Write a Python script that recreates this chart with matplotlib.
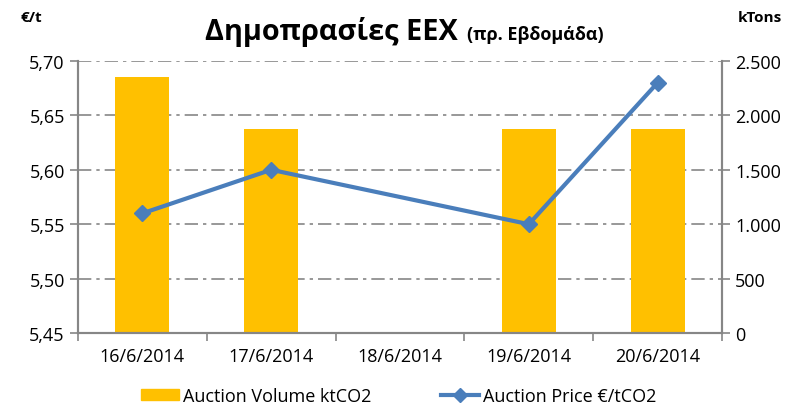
import numpy as np
import matplotlib
matplotlib.use('Agg')
import matplotlib.pyplot as plt
from matplotlib.lines import Line2D
from matplotlib.patches import Patch

plt.rcParams['font.family'] = ['Open Sans', 'DejaVu Sans']

# Dados
datas = ['16/6/2014', '17/6/2014', '18/6/2014', '19/6/2014', '20/6/2014']
volume = [2356, 1877, 0, 1877, 1877]
preco = [5.56, 5.60, np.nan, 5.55, 5.68]
ticks_esq = [5.45, 5.50, 5.55, 5.60, 5.65, 5.70]
ticks_dir = [0, 500, 1000, 1500, 2000, 2500]

W, H = 793, 406
fig = plt.figure(figsize=(W / 100, H / 100), dpi=100)
ax = fig.add_axes([78 / W, 1 - 334 / H, (722 - 78) / W, (334 - 62) / H])
ax2 = ax.twinx()

x = np.arange(len(datas))
cor_cinza = '#868686'
amarelo = '#FFC000'
azul = '#4A7EBB'

# Barras no eixo direito
ax2.bar(x, volume, width=0.42, color=amarelo, zorder=2)
ax2.set_ylim(0, 2500)
ax2.set_yticks(ticks_dir)
ax2.set_yticklabels([f'{v:,}'.replace(',', '.') for v in ticks_dir], fontsize=13)

# Linha no eixo esquerdo (sem o dia 18)
mask = ~np.isnan(preco)
ax.set_zorder(ax2.get_zorder() + 1)
ax.patch.set_visible(False)
ax.plot(x[mask], np.array(preco)[mask], color=azul, lw=3, marker='D', ms=8, zorder=3)
ax.set_ylim(5.45, 5.70)
ax.set_yticks(ticks_esq)
ax.set_yticklabels([f'{v:.2f}'.replace('.', ',') for v in ticks_esq], fontsize=13)

# Grelha tracejada
for v in ticks_esq[1:]:
    ax2.axhline((v - 5.45) / 0.25 * 2500, color=cor_cinza, lw=1.2, ls=(0, (8, 3, 2, 3)), zorder=1)

ax.set_xlim(-0.5, len(datas) - 0.5)
ax.set_xticks(x)
ax.set_xticklabels(datas, fontsize=13)
ax.set_xticks(np.arange(-0.5, len(datas)), minor=True)
ax.tick_params(axis='x', which='major', length=0, pad=10)
ax.tick_params(axis='x', which='minor', length=6, color=cor_cinza, width=1.2)
ax.tick_params(axis='y', length=6, color=cor_cinza, width=1.2)
ax2.tick_params(axis='y', length=6, color=cor_cinza, width=1.2)

for a in (ax, ax2):
    a.spines['top'].set_visible(False)
    for s in ('left', 'right', 'bottom'):
        a.spines[s].set_color(cor_cinza)
        a.spines[s].set_linewidth(1.5)

# Títulos
fig.text(205 / W, 1 - 40 / H, 'Δημοπρασίες EEX', fontsize=20.8, fontweight='bold', ha='left', va='baseline')
fig.text(467 / W, 1 - 40 / H, '(πρ. Εβδομάδα)', fontsize=13, fontweight='bold', ha='left', va='baseline')
fig.text(31 / W, 1 - 18 / H, '€/t', fontsize=11, fontweight='bold', ha='center', va='center')
fig.text(760 / W, 1 - 18 / H, 'kTons', fontsize=11, fontweight='bold', ha='center', va='center')

# Legenda
handles = [Patch(color=amarelo, label='Auction Volume ktCO2'),
           Line2D([0], [0], color=azul, lw=3, marker='D', ms=7, label='Auction Price €/tCO2')]
fig.legend(handles=handles, loc='center left', bbox_to_anchor=(141 / W, 1 - 397 / H), ncol=2,
           frameon=False, fontsize=13, handlelength=2.1, handleheight=0.6, handletextpad=0.2,
           columnspacing=3.9, borderpad=0, borderaxespad=0)

fig.savefig('out.png', dpi=100)
